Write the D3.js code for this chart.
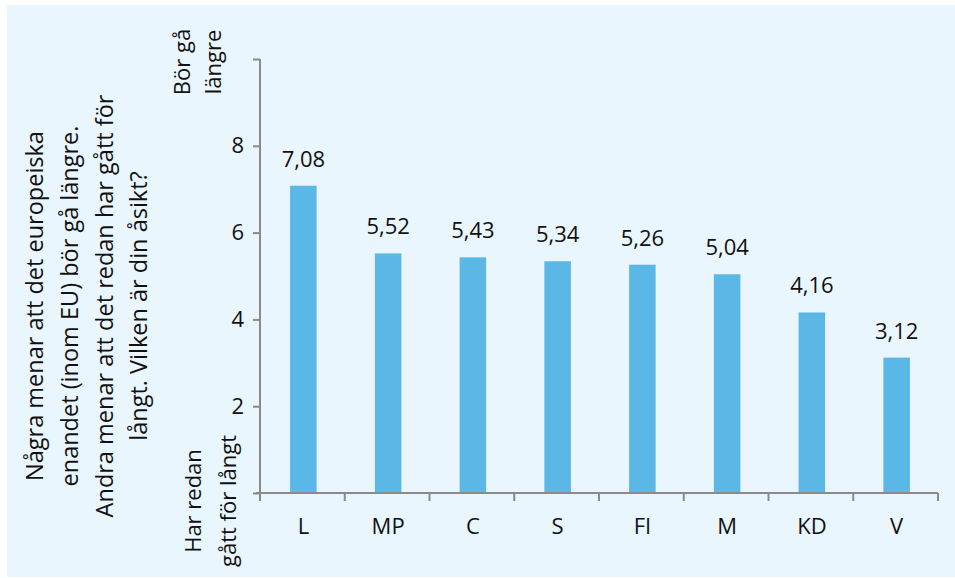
<!DOCTYPE html>
<html lang="sv">
<head>
    <meta charset="UTF-8">
    <title>Bör gå längre</title>
    <script src="https://d3js.org/d3.v7.min.js"></script>
    <style>
        body { margin: 0; background: #fff; }
        text { font-family: "Open Sans", "Noto Sans", sans-serif; fill: #111; }
    </style>
</head>
<body>
    <div id="chart"></div>

    <script>
        // data
        var parties = ["L", "MP", "C", "S", "FI", "M", "KD", "V"];
        var scores = [7.08, 5.52, 5.43, 5.34, 5.26, 5.04, 4.16, 3.12];
        var yTicks = [0, 2, 4, 6, 8, 10];
        var yTickLabels = ["", "2", "4", "6", "8", ""];
        var titleLines = [
            "Några menar att det europeiska",
            "enandet (inom EU) bör gå längre.",
            "Andra menar att det redan har gått för",
            "långt. Vilken är din åsikt?"
        ];
        var topLabel = ["Bör gå", "längre"];
        var bottomLabel = ["Har redan", "gått för långt"];

        var width = 955;
        var height = 578;
        var margin = { top: 59, right: 17, bottom: 85, left: 260 };

        var svg = d3.select("#chart")
            .append("svg")
            .attr("width", width)
            .attr("height", height);

        // light blue panel
        svg.append("rect")
            .attr("x", 7)
            .attr("y", 5)
            .attr("width", width - 7)
            .attr("height", 572)
            .attr("fill", "#eaf6fd");

        var x = d3.scaleBand()
            .domain(parties)
            .range([margin.left, width - margin.right])
            .padding(0);

        var y = d3.scaleLinear()
            .domain([0, 10])
            .range([height - margin.bottom, margin.top]);

        var barW = x.bandwidth() * 0.313;

        // bars
        svg.selectAll("rect.bar")
            .data(scores)
            .enter().append("rect")
            .attr("class", "bar")
            .attr("x", function(d, i) { return x(parties[i]) + x.bandwidth() / 2 - barW / 2 + 1; })
            .attr("y", function(d) { return y(d); })
            .attr("width", barW)
            .attr("height", function(d) { return y(0) - y(d); })
            .attr("fill", "#5bb8e6");

        // value labels
        svg.selectAll("text.val")
            .data(scores)
            .enter().append("text")
            .attr("class", "val")
            .attr("x", function(d, i) { return x(parties[i]) + x.bandwidth() / 2 + 1; })
            .attr("y", function(d) { return y(d) - 19; })
            .attr("text-anchor", "middle")
            .style("font-size", "22px")
            .text(function(d) { return d.toFixed(2).replace(".", ","); });

        // y axis
        var yAxis = d3.axisLeft(y)
            .tickValues(yTicks)
            .tickFormat(function(d, i) { return yTickLabels[i]; })
            .tickSize(7)
            .tickPadding(9);

        var gy = svg.append("g")
            .attr("transform", "translate(" + margin.left + ",0)")
            .call(yAxis);
        gy.select(".domain").attr("stroke", "#8a8a8a").attr("stroke-width", 2).attr("d", "M0," + y(10) + "V" + y(0));
        gy.selectAll(".tick line").attr("stroke", "#8a8a8a").attr("stroke-width", 2);
        gy.selectAll(".tick text").style("font-size", "22px").attr("fill", "#111");

        // x axis, ticks at category boundaries
        var bounds = parties.map(function(p) { return x(p); }).concat([x.range()[1]]);
        var gx = svg.append("g").attr("class", "xaxis");
        gx.append("line")
            .attr("x1", margin.left - 4)
            .attr("x2", x.range()[1])
            .attr("y1", y(0))
            .attr("y2", y(0))
            .attr("stroke", "#8a8a8a")
            .attr("stroke-width", 2);
        gx.selectAll("line.tk")
            .data(bounds)
            .enter().append("line")
            .attr("class", "tk")
            .attr("x1", function(d) { return d; })
            .attr("x2", function(d) { return d; })
            .attr("y1", y(0))
            .attr("y2", y(0) + 8)
            .attr("stroke", "#8a8a8a")
            .attr("stroke-width", 2);
        gx.selectAll("text")
            .data(parties)
            .enter().append("text")
            .attr("x", function(d) { return x(d) + x.bandwidth() / 2 + 1; })
            .attr("y", y(0) + 41)
            .attr("text-anchor", "middle")
            .style("font-size", "22px")
            .text(function(d) { return d; });

        // rotated axis title
        var title = svg.append("text")
            .attr("transform", "translate(43,306) rotate(-90)")
            .attr("text-anchor", "middle")
            .style("font-size", "23.5px");
        title.selectAll("tspan")
            .data(titleLines)
            .enter().append("tspan")
            .attr("x", 0)
            .attr("y", function(d, i) { return i * 34.8; })
            .text(function(d) { return d; });

        // end labels on the y axis
        function endLabel(lines, cx, cy, gap) {
            var t = svg.append("text")
                .attr("transform", "translate(" + cx + "," + cy + ") rotate(-90)")
                .attr("text-anchor", "middle")
                .style("font-size", "22px");
            t.selectAll("tspan")
                .data(lines)
                .enter().append("tspan")
                .attr("x", 0)
                .attr("y", function(d, i) { return i * gap; })
                .text(function(d) { return d; });
        }
        endLabel(topLabel, 190, 62, 31);
        endLabel(bottomLabel, 201, 501, 35);
    </script>
</body>
</html>
